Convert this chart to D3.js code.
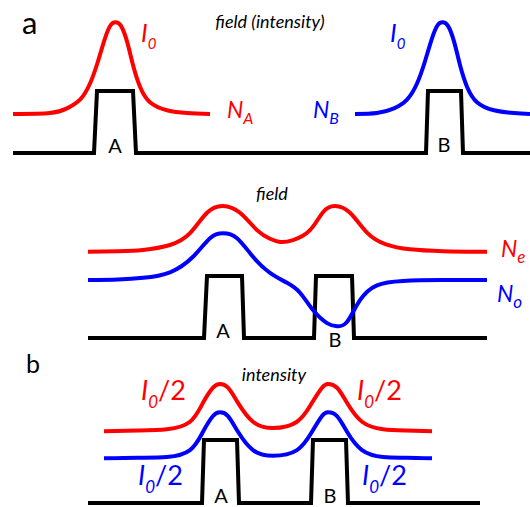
<!DOCTYPE html>
<html>
<head>
<meta charset="utf-8">
<script src="https://cdn.jsdelivr.net/npm/d3@7"></script>
<style>
body{margin:0;background:#fff;}
text{font-family:Lato,"Open Sans",sans-serif;}
</style>
</head>
<body>
<div class="canvas"></div>
<script>
// panel a : two isolated guides, [position, amplitude]
var topGuides = [[0,0],[8.1,0],[8.4,1],[12.0,1],[12.3,0],[41.3,0],[41.5,1],[44.8,1],[45.0,0],[51.7,0]];
var topModeA = [[0,0.63],[3.7,0.645],[5.4,0.72],[6.7,0.86],[7.7,1.12],[8.5,1.48],[9.2,1.85],[9.8,2.07],[10.3,2.11],
                [10.8,2.05],[11.4,1.80],[12.0,1.42],[12.7,1.07],[13.7,0.82],[15.4,0.69],[17.4,0.645],[19.7,0.63]];
var topModeB = [[34.2,0.63],[36.4,0.645],[38.1,0.72],[39.4,0.86],[40.4,1.12],[41.2,1.48],[41.9,1.85],[42.5,2.07],[43.0,2.11],
                [43.5,2.05],[44.1,1.80],[44.7,1.42],[45.4,1.07],[46.4,0.82],[48.1,0.69],[50.1,0.645],[51.7,0.63]];

// panel b top : coupled guides, field of even / odd supermodes
var midGuides = [[0,0],[11.6,0],[11.9,1],[15.4,1],[15.6,0],[22.6,0],[22.8,1],[26.4,1],[26.6,0],[39.9,0]];
var midEven = [[0,1.39],[3,1.40],[5.5,1.42],[8.2,1.50],[10.2,1.69],[11.9,2.02],[13.5,2.13],[15.2,2.02],[16.9,1.74],[18.2,1.60],
               [19.2,1.55],[20.5,1.58],[22.2,1.74],[23.5,2.03],[24.7,2.13],[26.2,2.02],[27.9,1.70],[29.8,1.51],[32.2,1.43],[35.5,1.40],[39.9,1.39]];
var midOdd = [[0,0.935],[3,0.945],[5.5,0.97],[8.2,1.06],[10.5,1.31],[12.2,1.61],[13.5,1.69],[14.9,1.61],[16.5,1.31],[18.2,1.05],
              [19.9,0.89],[21.2,0.73],[22.5,0.45],[23.9,0.24],[24.9,0.19],[25.9,0.26],[27.2,0.61],[28.9,0.85],[31.5,0.92],[35.5,0.935],[39.9,0.935]];

// panel b bottom : intensity of the supermodes
var botGuides = [[0,0],[11.4,0],[11.6,1],[14.9,1],[15.1,0],[22.3,0],[22.5,1],[25.8,1],[26.0,0],[39.2,0]];
var botEven = [[1.6,1.14],[5,1.15],[7.9,1.17],[10.2,1.29],[11.5,1.59],[12.5,1.83],[13.2,1.89],[14.0,1.83],[15.0,1.59],[16.5,1.29],
               [18.5,1.19],[20.9,1.29],[22.4,1.59],[23.4,1.83],[24.0,1.89],[24.9,1.83],[25.9,1.59],[27.4,1.29],[29.5,1.17],[31.8,1.15],[34.4,1.14]];
var botOdd = [[1.6,0.71],[5,0.72],[7.9,0.73],[10.2,0.84],[11.5,1.13],[12.5,1.38],[13.2,1.44],[14.0,1.38],[15.0,1.13],[16.5,0.84],
              [18.5,0.75],[20.9,0.84],[22.4,1.13],[23.4,1.38],[24.0,1.44],[24.9,1.38],[25.9,1.13],[27.4,0.84],[29.5,0.73],[31.8,0.72],[34.4,0.71]];

var panelLetters = ["a","b"];
var titles = ["field (intensity)","field","intensity"];
var guideNames = ["A","B"];

var red = "#ff0000", blue = "#0000ff", black = "#000000";

const svg = d3.select(".canvas").append("svg")
              .attr("width",530)
              .attr("height",507);

function panel(dom, xr, base, top) {
     return {
          x: d3.scaleLinear().domain(dom).range(xr),
          y: d3.scaleLinear().domain([0,1]).range([base,top])
     };
}

var pA = panel([0,51.7],[13,530],153,91);
var pB = panel([0,39.9],[88,487],338,276);
var pC = panel([0,39.2],[88,480],503,440);

function trace(p, data, color, smooth) {
     var line = d3.line()
                  .x(function(d) {return p.x(d[0]);})
                  .y(function(d) {return p.y(d[1]);})
                  .curve(smooth ? d3.curveNatural : d3.curveLinear);
     svg.append("path")
        .datum(data)
        .attr("d",line)
        .attr("fill","none")
        .attr("stroke",color)
        .attr("stroke-width",4)
        .attr("stroke-linejoin","miter");
}

// waveguide index profiles
trace(pA, topGuides, black, false);
trace(pB, midGuides, black, false);
trace(pC, botGuides, black, false);
// modes
trace(pA, topModeA, red, true);
trace(pA, topModeB, blue, true);
trace(pB, midEven, red, true);
trace(pB, midOdd, blue, true);
trace(pC, botEven, red, true);
trace(pC, botOdd, blue, true);

// plain labels
function label(txt, x, y, size, color, italic, anchor) {
     svg.append("text")
        .text(txt)
        .attr("x",x)
        .attr("y",y)
        .attr("font-size",size)
        .attr("fill",color)
        .attr("font-style",italic ? "italic" : "normal")
        .attr("text-anchor",anchor || "start");
}

// symbol with subscript (and optional tail like "/2")
function symbol(main, sub, tail, x, y, size, subSize, color) {
     var t = svg.append("text")
                .attr("x",x)
                .attr("y",y)
                .attr("fill",color)
                .attr("font-size",size);
     t.append("tspan").text(main).attr("font-style","italic");
     t.append("tspan").text(sub).attr("font-style","italic")
      .attr("font-size",subSize).attr("dy",size*0.28);
     if (tail) t.append("tspan").text(tail).attr("dy",-size*0.28);
}

label(panelLetters[0], 22, 34, 31, black);
label(panelLetters[1], 26, 373, 25, black);

label(titles[0], 270, 28, 18, black, true, "middle");
label(titles[1], 272, 200, 18, black, true, "middle");
label(titles[2], 274, 381, 18, black, true, "middle");

label(guideNames[0], pA.x(10.2), 153, 20, black, false, "middle");
label(guideNames[1], pA.x(43.1), 152, 20, black, false, "middle");
label(guideNames[0], pB.x(13.5), 338, 20, black, false, "middle");
label(guideNames[1], pB.x(24.7), 347, 20, black, false, "middle");
label(guideNames[0], pC.x(13.3), 503, 20, black, false, "middle");
label(guideNames[1], pC.x(24.2), 503, 20, black, false, "middle");

symbol("I","0",null, 141, 42, 25, 15, red);
symbol("I","0",null, 390, 42, 25, 15, blue);
symbol("N","A",null, 227, 118, 23, 16, red);
symbol("N","B",null, 313, 118, 23, 16, blue);
symbol("N","e",null, 501, 257, 23, 17, red);
symbol("N","o",null, 497, 302, 23, 17, blue);
symbol("I","0","/2", 141, 400, 27, 17, red);
symbol("I","0","/2", 357, 400, 27, 17, red);
symbol("I","0","/2", 138, 485, 27, 17, blue);
symbol("I","0","/2", 362, 485, 27, 17, blue);
</script>
</body>
</html>
